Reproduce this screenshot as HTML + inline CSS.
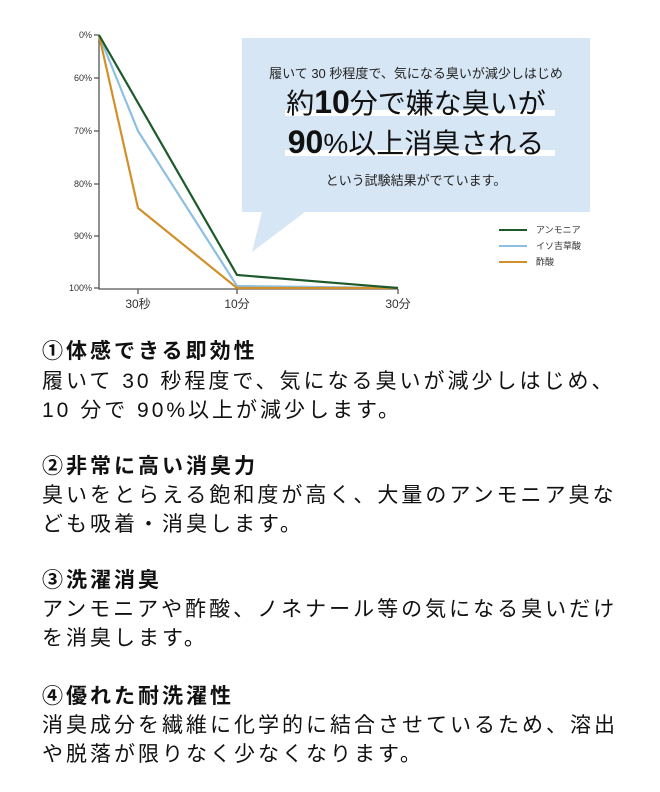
<!DOCTYPE html>
<html><head><meta charset="utf-8"><style>
body{margin:0;width:660px;height:792px;background:#fff;overflow:hidden;position:relative;font-family:"Liberation Sans","Noto Sans CJK JP",sans-serif;}
.t{position:absolute;left:42px;font-size:21px;letter-spacing:3px;white-space:nowrap;color:#111;line-height:1;}
.b{font-weight:bold;}
</style></head><body>
<svg width="660" height="320" style="position:absolute;left:0;top:0" font-family="Liberation Sans, Noto Sans CJK JP, sans-serif">
<path d="M242 38 H590 V212 H305 L252 252 L262 212 H242 Z" fill="#d6e6f4"/>
<rect x="285" y="110" width="270" height="6" fill="#fff"/>
<rect x="285" y="150" width="270" height="6" fill="#fff"/>
<text x="416" y="78" font-size="13" text-anchor="middle" fill="#222">履いて 30 秒程度で、気になる臭いが減少しはじめ</text>
<text x="416" y="113" font-size="28" text-anchor="middle" fill="#111">約<tspan font-weight="bold" font-size="32">10</tspan>分で嫌な臭いが</text>
<text x="416" y="153" font-size="28" text-anchor="middle" fill="#111"><tspan font-weight="bold" font-size="32">90</tspan>%以上消臭される</text>
<text x="416" y="185" font-size="13" text-anchor="middle" fill="#222">という試験結果がでています。</text>
<g stroke="#555" stroke-width="1.3" fill="none">
<path d="M99 35 V289 H398"/>
<path d="M94 35H99M94 78H99M94 131H99M94 184H99M94 236H99M94 288H99"/>
<path d="M138 289V294M237 289V294M398 289V294"/>
</g>
<g font-size="9" fill="#333" text-anchor="end">
<text x="92" y="38">0%</text><text x="92" y="81">60%</text><text x="92" y="134">70%</text>
<text x="92" y="187">80%</text><text x="92" y="239">90%</text><text x="92" y="291">100%</text>
</g>
<g font-size="12" fill="#333" text-anchor="middle">
<text x="138" y="308">30秒</text><text x="237" y="308">10分</text><text x="398" y="308">30分</text>
</g>
<g fill="none" stroke-width="2.2">
<path d="M99 35 L138 131 L237 286 L398 288" stroke="#8dbfe3"/>
<path d="M99 35 L138 208 L237 288 L398 288" stroke="#d2902a"/>
<path d="M99 35 L237 275 L398 288" stroke="#1d5a2a"/>
</g>
<g stroke-width="2">
<path d="M499 230H527" stroke="#1d5a2a"/><path d="M499 246H527" stroke="#8dbfe3"/><path d="M499 262H527" stroke="#d2902a"/>
</g>
<g font-size="9" fill="#333">
<text x="536" y="233">アンモニア</text><text x="536" y="249">イソ吉草酸</text><text x="536" y="265">酢酸</text>
</g>
</svg>
<div class="t b" style="top:341px">①体感できる即効性</div>
<div class="t" style="top:371px">履いて 30 秒程度で、気になる臭いが減少しはじめ、</div>
<div class="t" style="top:400px">10 分で 90%以上が減少します。</div>
<div class="t b" style="top:456px">②非常に高い消臭力</div>
<div class="t" style="top:485px">臭いをとらえる飽和度が高く、大量のアンモニア臭な</div>
<div class="t" style="top:514px">ども吸着・消臭します。</div>
<div class="t b" style="top:570px">③洗濯消臭</div>
<div class="t" style="top:599px">アンモニアや酢酸、ノネナール等の気になる臭いだけ</div>
<div class="t" style="top:628px">を消臭します。</div>
<div class="t b" style="top:686px">④優れた耐洗濯性</div>
<div class="t" style="top:715px">消臭成分を繊維に化学的に結合させているため、溶出</div>
<div class="t" style="top:744px">や脱落が限りなく少なくなります。</div>
</body></html>
